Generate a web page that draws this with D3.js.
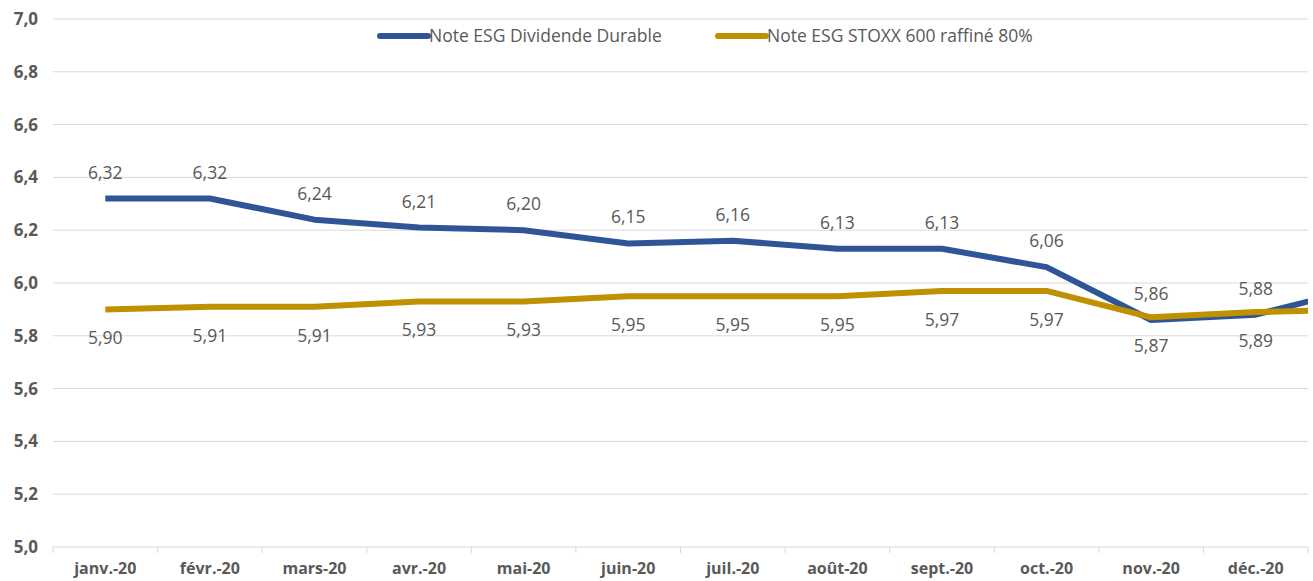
<!DOCTYPE html>
<html>
	<head>
		<meta http-equiv="Content-Type" content="text/html;charset=utf-8"/>
		<title>Note ESG</title>
		<script type="text/javascript" src="https://cdn.jsdelivr.net/npm/d3@7"></script>
		<style type="text/css">
			body { margin: 0; background: #fff; }
			text { font-family: "Open Sans", "Noto Sans", sans-serif; fill: #595959; }
			.grid line { stroke: #d9d9d9; stroke-width: 1; }
			.axis path, .axis line { stroke: #d9d9d9; }
			.tick text { font-weight: bold; }
			.lbl { font-size: 17.5px; }
		</style>
	</head>
	<body>
		<script type="text/javascript">

			//Data (last month is cut off at the right edge)
			var months = ["janv.-20", "févr.-20", "mars-20", "avr.-20", "mai-20", "juin-20",
				"juil.-20", "août-20", "sept.-20", "oct.-20", "nov.-20", "déc.-20", "janv.-21"];
			var divDurable = [6.32, 6.32, 6.24, 6.21, 6.20, 6.15, 6.16, 6.13, 6.13, 6.06, 5.86, 5.88, 5.98];
			var stoxx600 = [5.90, 5.91, 5.91, 5.93, 5.93, 5.95, 5.95, 5.95, 5.97, 5.97, 5.87, 5.89, 5.90];
			var shownMonths = 12;
			var yTicks = [5.0, 5.2, 5.4, 5.6, 5.8, 6.0, 6.2, 6.4, 6.6, 6.8, 7.0];

			var series = [
				{ name: "Note ESG Dividende Durable", values: divDurable, color: "#2f5597", dy: -20 },
				{ name: "Note ESG STOXX 600 raffiné 80%", values: stoxx600, color: "#bf9000", dy: 35 }
			];

			var w = 1313, h = 581;
			var pL = 53, pR = 1308, pT = 19, pB = 547;
			var bw = (pR - pL) / shownMonths;

			var fr = d3.formatLocale({ decimal: ",", thousands: " ", grouping: [3], currency: ["", " €"] });
			var f1 = fr.format(".1f"), f2 = fr.format(".2f");

			var x = d3.scaleBand()
				.domain(months)
				.range([pL, pL + bw * months.length]);
			var y = d3.scaleLinear().domain([5, 7]).range([pB, pT]);

			var svg = d3.select("body").append("svg")
				.attr("width", w)
				.attr("height", h);

			svg.append("defs").append("clipPath").attr("id", "plot")
				.append("rect")
				.attr("x", pL).attr("y", 0)
				.attr("width", pR - pL).attr("height", h);

			//horizontal gridlines
			svg.append("g").attr("class", "grid")
				.selectAll("line")
				.data(yTicks.slice(1))
				.enter().append("line")
				.attr("x1", pL).attr("x2", pR)
				.attr("y1", function(d) { return y(d); })
				.attr("y2", function(d) { return y(d); });

			//y axis labels
			svg.append("g").attr("class", "axis")
				.attr("transform", "translate(" + pL + ",0)")
				.call(d3.axisLeft(y).tickValues(yTicks).tickFormat(f1).tickSize(0).tickPadding(15))
				.call(function(g) { g.select(".domain").remove(); })
				.selectAll("text").style("font-size", "17px");

			//x axis
			var xa = svg.append("g").attr("class", "axis")
				.attr("transform", "translate(0," + pB + ")")
				.call(d3.axisBottom(x).tickValues(months.slice(0, shownMonths)).tickSize(0).tickPadding(16));
			xa.select(".domain").attr("d", "M" + pL + ",0H" + pR);
			xa.selectAll(".tick text").style("font-size", "16px");
			//tick marks between categories
			xa.selectAll("line.sep")
				.data(d3.range(shownMonths + 1))
				.enter().append("line")
				.attr("class", "sep")
				.attr("x1", function(i) { return pL + i * bw; })
				.attr("x2", function(i) { return pL + i * bw; })
				.attr("y1", 0).attr("y2", 6)
				.attr("stroke", "#d9d9d9");

			var line = d3.line()
				.x(function(d, i) { return x(months[i]) + x.bandwidth() / 2; })
				.y(function(d) { return y(d); });

			var plot = svg.append("g").attr("clip-path", "url(#plot)");
			plot.selectAll("path.s")
				.data(series)
				.enter().append("path")
				.attr("class", "s")
				.attr("fill", "none")
				.attr("stroke", function(d) { return d.color; })
				.attr("stroke-width", 6)
				.attr("stroke-linejoin", "round")
				.attr("d", function(d) { return line(d.values); });

			//data labels
			series.forEach(function(s) {
				svg.append("g").selectAll("text")
					.data(s.values.slice(0, shownMonths))
					.enter().append("text")
					.attr("class", "lbl")
					.attr("text-anchor", "middle")
					.attr("x", function(d, i) { return x(months[i]) + x.bandwidth() / 2; })
					.attr("y", function(d) { return y(d) + s.dy; })
					.text(function(d) { return f2(d); });
			});

			//legend
			var legX = [380, 718];
			var leg = svg.append("g").selectAll("g")
				.data(series)
				.enter().append("g")
				.attr("transform", function(d, i) { return "translate(" + legX[i] + ",36)"; });
			leg.append("line")
				.attr("x1", 0).attr("x2", 48)
				.attr("stroke", function(d) { return d.color; })
				.attr("stroke-width", 6)
				.attr("stroke-linecap", "round");
			leg.append("text")
				.attr("x", 49).attr("dy", "0.35em")
				.style("font-size", "17.5px")
				.text(function(d) { return d.name; });

		</script>
	</body>
</html>
